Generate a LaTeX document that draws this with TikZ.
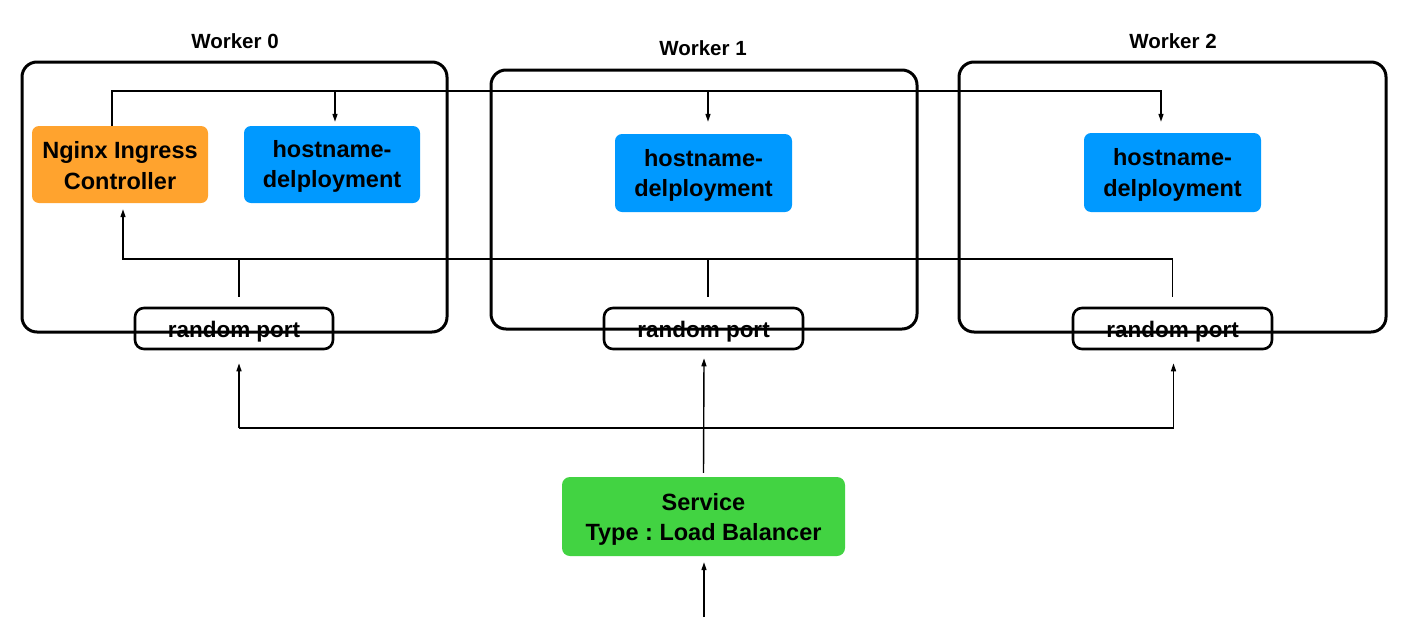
\documentclass[tikz,border=0pt]{standalone}
\usepackage{fontspec}
\setmainfont{Liberation Sans}
\usetikzlibrary{arrows.meta,positioning}
\definecolor{ngorange}{RGB}{255,163,46}
\definecolor{hblue}{RGB}{0,153,255}
\definecolor{sgreen}{RGB}{66,211,66}
\frenchspacing
\newcommand\podtxt[2]{\raisebox{#1}[\height][\depth]{\begin{tabular}{@{}c@{}}#2\end{tabular}}}
\begin{document}
\begin{tikzpicture}[x=1pt,y=-1pt,
  worker/.style={draw=black,line width=3pt,rounded corners=15pt,inner sep=0pt},
  wlabel/.style={font=\fontsize{20.5}{24}\selectfont\bfseries},
  pod/.style={rounded corners=7pt,inner sep=0pt,align=center,
     font=\fontsize{23.5}{30.5}\selectfont\bfseries},
  port/.style={draw=black,line width=2.6pt,rounded corners=9pt,inner sep=0pt,
     font=\fontsize{22.5}{26}\selectfont\bfseries},
  ln/.style={line width=1.4pt},
  arr/.style={line width=1.4pt,-{Triangle[length=8pt,width=5pt]}},
]
\useasboundingbox (0,0) rectangle (1420,640);
% worker boxes
\node[worker,minimum width=425pt,minimum height=270pt] (w0) at (234.5,197) {};
\node[worker,minimum width=426pt,minimum height=259pt] (w1) at (704,199.5) {};
\node[worker,minimum width=427pt,minimum height=270pt] (w2) at (1172.5,197) {};
\node[wlabel] (l0) at (235,41) {Worker 0};
\node[wlabel] (l1) at (703,48) {Worker 1};
\node[wlabel] (l2) at (1173,41) {Worker 2};
% pods
\node[pod,fill=ngorange,minimum width=176pt,minimum height=77pt] (ng) at (120,164.5) {\podtxt{-3.5pt}{Nginx Ingress\\Controller}};
\node[pod,fill=hblue,minimum width=176pt,minimum height=77pt] (h0) at (332,164.5) {\podtxt{-2pt}{hostname-\\delployment}};
\node[pod,fill=hblue,minimum width=177pt,minimum height=78pt] (h1) at (703.5,173) {\podtxt{-2.5pt}{hostname-\\delployment}};
\node[pod,fill=hblue,minimum width=177pt,minimum height=79pt] (h2) at (1172.5,172.5) {\podtxt{-2.5pt}{hostname-\\delployment}};
% random ports
\node[port,minimum width=198pt,minimum height=41pt] (rp0) at (234,328.5) {\raisebox{-3pt}[\height][\depth]{random port}};
\node[port,minimum width=199pt,minimum height=41pt] (rp1) at (703.5,328.5) {\raisebox{-3pt}[\height][\depth]{random port}};
\node[port,minimum width=199pt,minimum height=41pt] (rp2) at (1172.5,328.5) {\raisebox{-3pt}[\height][\depth]{random port}};
% service
\node[pod,fill=sgreen,minimum width=283pt,minimum height=79pt,rounded corners=8pt] (svc) at (703.5,516.5) {\podtxt{-3pt}{Service\\Type : Load Balancer}};
% coordinates
\coordinate (tl) at (112,91);
\coordinate (bl) at (123,259);
\coordinate (hb) at (704,428);
\coordinate (in) at (704,617);
% top connector
\draw[arr] ([xshift=-8pt]ng.north) |- (tl) -| ([xshift=-11.5pt,yshift=11pt]h2.north);
\draw[arr] ([xshift=3pt]h0.north |- tl) -- ([xshift=3pt,yshift=4pt]h0.north);
\draw[arr] ([xshift=4.5pt]h1.north |- tl) -- ([xshift=4.5pt,yshift=12pt]h1.north);
% bottom connector inside workers
\draw[arr] ([yshift=10pt]rp2.north) |- (bl) -- ([xshift=3pt,yshift=-6pt]ng.south);
\draw[ln] ([xshift=5pt,yshift=10pt]rp0.north) -- ([xshift=5pt]rp0.north |- bl);
\draw[ln] ([xshift=4.5pt,yshift=10pt]rp1.north) -- ([xshift=4.5pt]rp1.north |- bl);
% distribution from service
\draw[line width=2pt] ([xshift=5pt]rp0.south |- hb) -- ([xshift=1.5pt]rp2.south |- hb);
\draw[arr] ([xshift=5pt]rp0.south |- hb) -- ([xshift=5pt,yshift=-13pt]rp0.south);
\draw[arr] ([xshift=1pt]rp2.south |- hb) -- ([xshift=1pt,yshift=-13pt]rp2.south);
\draw[arr] ([yshift=4pt]svc.north) -- ([xshift=0.5pt,yshift=-8pt]rp1.south);
\draw[arr] (in) -- ([xshift=0.5pt,yshift=-6pt]svc.south);
\end{tikzpicture}
\end{document}
